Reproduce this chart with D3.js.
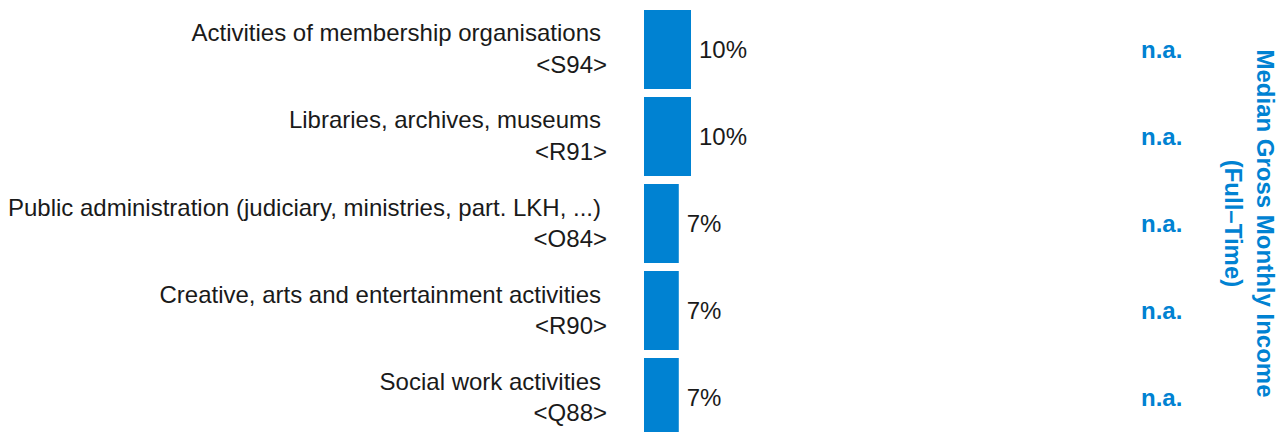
<!DOCTYPE html>
<html>
<head>
<meta charset="utf-8">
<script src="https://cdn.jsdelivr.net/npm/d3@7"></script>
<style>
  body { margin: 0; background: #fff; }
  svg { display: block; font-family: "Liberation Sans", Arial, sans-serif; }
</style>
</head>
<body>
<div id="chart"></div>
<script>
// data
var categories = [
    "Activities of membership organisations",
    "Libraries, archives, museums",
    "Public administration (judiciary, ministries, part. LKH, ...)",
    "Creative, arts and entertainment activities",
    "Social work activities"
];
var codes = ["<S94>", "<R91>", "<O84>", "<R90>", "<Q88>"];
var shares = [10, 10, 7.4, 7.4, 7.4];
var incomes = ["n.a.", "n.a.", "n.a.", "n.a.", "n.a."];
var titleLines = ["Median Gross Monthly Income", "(Full\u2013Time)"];

var blue = "#0082d2";
var ink = "#1a1a1a";
var width = 1282, height = 432;

var svg = d3.select("#chart")
    .append("svg")
    .attr("width", width)
    .attr("height", height);

var y = d3.scaleBand()
    .domain(codes)
    .range([10, 437])
    .paddingInner(0.092);

var x = d3.scaleLinear()
    .domain([0, 10])
    .range([644, 691]);

var rows = svg.selectAll("g.row")
    .data(codes)
    .enter()
    .append("g")
    .classed("row", true)
    .attr("transform", d => "translate(0," + (y(d) + y.bandwidth() / 2) + ")");

// category names, two lines each
rows.append("text")
    .attr("x", 601)
    .attr("y", -8)
    .attr("text-anchor", "end")
    .style("font-size", "24px")
    .style("fill", ink)
    .text((d, i) => categories[i]);

rows.append("text")
    .attr("x", 607)
    .attr("y", 23.5)
    .attr("text-anchor", "end")
    .style("font-size", "24px")
    .style("fill", ink)
    .text(d => d);

// bars
rows.append("rect")
    .attr("x", x(0))
    .attr("y", -y.bandwidth() / 2)
    .attr("width", (d, i) => x(shares[i]) - x(0))
    .attr("height", y.bandwidth())
    .style("fill", blue);

rows.append("text")
    .attr("x", (d, i) => x(shares[i]) + 8)
    .attr("y", 0)
    .attr("dy", "0.35em")
    .style("font-size", "24px")
    .style("fill", ink)
    .text((d, i) => d3.format(".0f")(shares[i]) + "%");

// income column
rows.append("text")
    .attr("x", 1141)
    .attr("y", 0)
    .attr("dy", "0.35em")
    .style("font-size", "24px")
    .style("font-weight", "bold")
    .style("fill", blue)
    .text((d, i) => incomes[i]);

// rotated column title
var midY = (y.range()[0] + y.range()[1]) / 2;
svg.append("text")
    .attr("transform", "translate(1257," + midY + ") rotate(90)")
    .attr("text-anchor", "middle")
    .style("font-size", "24px")
    .style("font-weight", "bold")
    .style("fill", blue)
    .selectAll("tspan")
    .data(titleLines)
    .enter()
    .append("tspan")
    .attr("x", 0)
    .attr("y", (d, i) => i * 32)
    .text(d => d);
</script>
</body>
</html>
